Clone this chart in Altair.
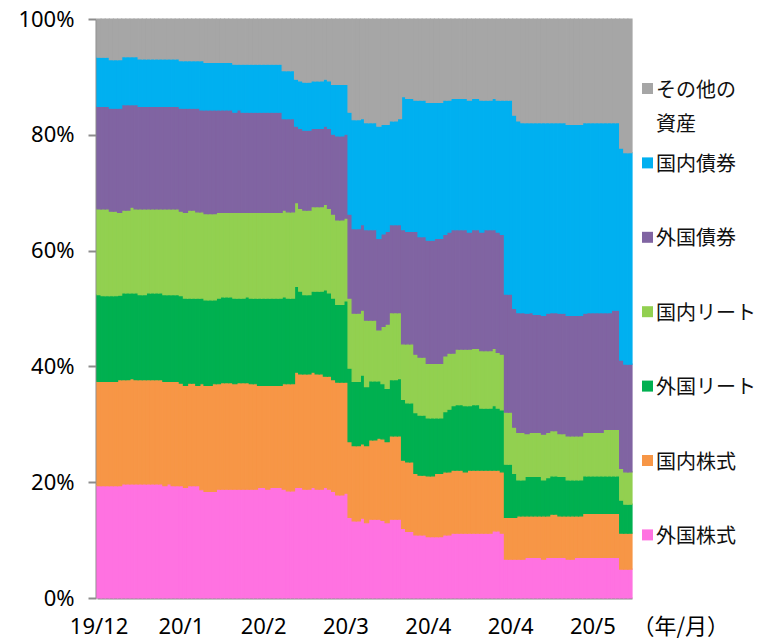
import altair as alt
import pandas as pd

# ---------------- data ----------------
n_days = 130                      # business-day columns
x_tick_every = 20                 # a label every 20 columns
x_tick_labels = ["19/12", "20/1", "20/2", "20/3", "20/4", "20/4", "20/5"]
x_title = "（年/月）"

series_names = ["外国株式", "国内株式", "外国リート", "国内リート", "外国債券", "国内債券", "その他の資産"]
series_colors = ["#FF72E1", "#F79646", "#00B050", "#92D050", "#8064A2", "#00B0F0", "#A6A6A6"]

legend_order = ["その他の資産", "国内債券", "外国債券", "国内リート", "外国リート", "国内株式", "外国株式"]
legend_text = ["その他の\n資産", "国内債券", "外国債券", "国内リート", "外国リート", "国内株式", "外国株式"]

y_ticks = [0, 20, 40, 60, 80, 100]

# cumulative upper edge (%) of each band, per column
top_foreign_equity = [
    19.4, 19.4, 19.4, 19.4, 19.4, 19.4, 19.7, 19.7, 19.7, 19.7,
    19.7, 19.7, 19.7, 19.7, 19.7, 19.7, 19.4, 19.7, 19.4, 19.4,
    19.4, 19.1, 19.4, 19.4, 19.4, 18.7, 18.4, 18.4, 18.4, 18.8,
    18.8, 18.8, 18.8, 18.8, 18.8, 18.8, 18.8, 18.8, 18.8, 19.1,
    19.1, 18.8, 19.1, 19.1, 19.1, 18.8, 18.5, 18.5, 19.1, 19.1,
    18.8, 18.8, 19.1, 18.8, 18.8, 19.1, 18.8, 18.4, 17.8, 17.8,
    18.1, 13.9, 13.3, 13.3, 13.8, 13.0, 13.6, 13.6, 13.6, 13.4,
    13.0, 13.6, 13.6, 13.6, 12.0, 11.5, 11.5, 10.9, 10.9, 10.9,
    10.6, 10.6, 10.6, 10.6, 10.9, 10.9, 11.2, 11.2, 11.2, 11.2,
    11.2, 11.2, 11.2, 11.2, 11.2, 11.2, 11.6, 11.6, 11.2, 6.7,
    6.7, 6.7, 6.7, 6.7, 7.0, 7.0, 7.0, 7.0, 6.7, 7.0,
    7.0, 7.0, 7.0, 7.0, 6.7, 6.7, 7.0, 7.0, 7.0, 7.0,
    7.0, 7.0, 7.0, 7.0, 7.0, 7.0, 7.0, 5.0, 5.0, 5.0,
]
top_domestic_equity = [
    37.4, 37.4, 37.4, 37.4, 37.4, 37.7, 37.7, 37.7, 37.9, 37.7,
    37.7, 37.7, 37.7, 37.7, 37.7, 37.7, 37.4, 37.4, 37.4, 37.4,
    37.1, 36.7, 37.1, 37.1, 36.7, 37.0, 36.7, 36.7, 37.0, 37.0,
    37.2, 37.2, 37.2, 37.0, 37.2, 37.2, 37.2, 37.0, 37.0, 36.7,
    36.7, 36.7, 36.7, 36.7, 36.7, 37.0, 37.0, 37.0, 39.0, 38.7,
    38.7, 38.7, 39.0, 38.7, 38.7, 38.3, 38.3, 37.7, 37.3, 37.3,
    37.3, 27.0, 26.3, 26.3, 26.6, 26.3, 27.3, 27.3, 27.6, 27.5,
    27.0, 28.0, 28.0, 28.0, 23.8, 23.5, 23.5, 21.5, 21.2, 21.2,
    21.1, 21.1, 21.5, 21.5, 21.8, 21.8, 22.1, 22.1, 22.1, 21.8,
    22.1, 22.1, 22.1, 22.1, 22.1, 22.1, 22.1, 22.1, 21.8, 13.9,
    13.9, 13.9, 14.2, 14.2, 14.2, 14.2, 14.2, 14.2, 14.2, 14.2,
    14.5, 14.5, 14.2, 14.2, 14.2, 14.2, 14.2, 14.2, 14.6, 14.6,
    14.6, 14.6, 14.6, 14.6, 14.6, 14.6, 14.6, 11.2, 11.2, 11.2,
]
top_foreign_reit = [
    52.4, 52.2, 52.2, 52.2, 52.2, 52.3, 52.7, 52.7, 52.7, 52.7,
    52.4, 52.4, 52.7, 52.7, 52.7, 52.7, 52.4, 52.4, 52.4, 52.4,
    52.2, 51.8, 51.8, 51.8, 51.8, 51.8, 51.5, 51.5, 51.5, 51.8,
    52.0, 52.0, 52.0, 51.8, 51.8, 51.8, 52.0, 51.8, 51.8, 51.8,
    51.8, 51.8, 51.8, 51.8, 51.8, 52.0, 51.8, 51.8, 53.8, 53.0,
    52.4, 52.4, 53.0, 53.0, 53.0, 53.2, 52.7, 51.8, 50.7, 50.7,
    51.3, 39.7, 37.4, 37.4, 38.5, 36.5, 37.5, 37.5, 37.5, 37.0,
    36.2, 37.7, 37.7, 37.9, 34.3, 33.7, 33.7, 32.0, 31.6, 31.6,
    31.1, 31.1, 31.1, 31.1, 32.2, 32.6, 33.2, 33.4, 33.4, 33.2,
    33.2, 33.4, 33.4, 32.8, 32.8, 32.8, 33.2, 32.8, 32.5, 23.1,
    23.1, 21.5, 20.4, 20.4, 21.0, 21.0, 21.0, 21.0, 20.4, 20.8,
    21.1, 21.1, 21.0, 21.0, 20.4, 20.4, 20.4, 20.4, 21.1, 21.1,
    21.1, 21.1, 21.1, 21.1, 21.1, 21.1, 21.1, 16.9, 16.2, 16.2,
]
top_domestic_reit = [
    67.2, 67.2, 67.2, 66.8, 66.8, 66.6, 67.0, 67.0, 67.5, 67.2,
    67.2, 67.2, 67.2, 67.2, 67.2, 67.2, 67.2, 67.2, 67.2, 67.2,
    66.8, 66.6, 67.0, 67.0, 66.7, 66.7, 66.4, 66.4, 66.4, 66.6,
    66.6, 66.6, 66.6, 66.6, 66.6, 66.6, 66.6, 66.6, 66.6, 66.6,
    66.6, 66.6, 66.6, 66.6, 66.6, 67.0, 66.7, 66.7, 68.3, 67.3,
    67.0, 67.0, 67.6, 67.6, 67.6, 68.0, 67.3, 66.3, 65.3, 65.3,
    65.6, 51.8, 49.2, 49.2, 49.7, 48.0, 48.0, 48.0, 46.3, 46.9,
    47.3, 49.3, 49.3, 49.3, 43.9, 43.9, 43.9, 42.1, 41.6, 41.6,
    40.5, 40.5, 40.5, 40.5, 41.8, 42.3, 42.3, 43.0, 43.0, 43.0,
    43.0, 43.1, 43.1, 42.7, 42.7, 42.7, 43.1, 42.4, 42.1, 32.1,
    32.1, 29.5, 28.6, 28.6, 28.4, 28.6, 28.6, 28.6, 28.3, 28.6,
    28.9, 28.9, 28.4, 28.4, 28.0, 28.0, 28.0, 28.0, 28.6, 28.6,
    28.6, 28.6, 28.6, 29.1, 29.1, 29.1, 29.1, 22.4, 21.8, 21.8,
]
top_foreign_bond = [
    84.9, 84.9, 84.9, 84.6, 84.6, 84.6, 85.2, 85.2, 85.2, 85.2,
    84.9, 84.9, 84.9, 84.9, 84.9, 84.9, 84.9, 84.9, 84.9, 84.9,
    84.6, 84.6, 84.6, 84.6, 84.6, 84.3, 84.3, 84.3, 84.3, 84.3,
    84.3, 84.3, 84.3, 83.9, 84.3, 83.9, 83.9, 83.9, 83.9, 83.9,
    83.9, 83.9, 83.9, 83.9, 83.9, 82.8, 82.8, 82.8, 81.5, 81.1,
    80.8, 80.8, 81.1, 81.1, 81.1, 81.5, 81.1, 80.1, 79.8, 79.8,
    80.1, 66.3, 63.8, 63.8, 64.5, 63.6, 63.6, 63.6, 62.1, 62.9,
    63.3, 64.5, 64.5, 64.5, 63.6, 63.3, 63.3, 63.3, 62.4, 62.4,
    61.8, 61.8, 62.1, 62.1, 62.8, 63.2, 63.6, 63.6, 63.6, 63.6,
    63.2, 63.6, 63.6, 63.2, 63.6, 63.6, 63.6, 63.2, 62.8, 52.5,
    52.5, 50.0, 49.3, 49.3, 49.2, 49.3, 49.0, 49.0, 48.8, 49.2,
    49.3, 49.3, 49.2, 49.2, 48.8, 48.8, 48.8, 48.8, 49.2, 49.3,
    49.3, 49.3, 49.3, 49.3, 49.3, 49.7, 49.7, 41.1, 40.4, 40.4,
]
top_domestic_bond = [
    93.4, 93.4, 93.4, 93.0, 93.0, 93.0, 93.5, 93.5, 93.5, 93.5,
    93.1, 93.1, 93.1, 93.1, 93.1, 93.1, 93.1, 93.1, 93.1, 93.1,
    92.8, 92.8, 92.8, 92.8, 92.8, 92.8, 92.5, 92.5, 92.5, 92.5,
    92.5, 92.5, 92.5, 92.2, 92.2, 92.2, 92.2, 92.2, 92.2, 92.2,
    92.2, 92.2, 92.2, 92.2, 92.2, 91.1, 91.1, 91.1, 89.6, 89.3,
    89.1, 89.1, 89.3, 89.3, 89.3, 89.6, 89.3, 88.7, 88.7, 88.7,
    88.7, 83.9, 82.6, 82.6, 82.8, 82.1, 82.1, 82.1, 81.5, 81.8,
    81.8, 82.4, 82.4, 82.8, 86.6, 86.3, 86.3, 86.0, 86.0, 86.0,
    85.6, 85.6, 85.6, 85.6, 86.0, 86.0, 86.3, 86.3, 86.3, 86.3,
    86.0, 86.3, 86.3, 86.0, 86.0, 86.0, 86.3, 86.0, 86.0, 86.0,
    86.0, 83.4, 82.4, 82.1, 82.1, 82.1, 82.1, 82.1, 82.1, 82.1,
    82.1, 82.1, 82.1, 82.1, 81.8, 81.8, 81.8, 81.8, 82.1, 82.1,
    82.1, 82.1, 82.1, 82.1, 82.1, 82.1, 82.1, 77.7, 76.9, 76.9,
]

# ---------------- table ----------------
edges = [
    [0.0] * n_days,
    top_foreign_equity,
    top_domestic_equity,
    top_foreign_reit,
    top_domestic_reit,
    top_foreign_bond,
    top_domestic_bond,
    [100.0] * n_days,
]
rows = []
for k, name in enumerate(series_names):
    lo, hi = edges[k], edges[k + 1]
    for i in range(n_days):
        rows.append({"idx": i, "series": name, "order": k,
                     "lower": lo[i], "upper": hi[i], "share": round(hi[i] - lo[i], 1)})
df = pd.DataFrame(rows)
legend_df = pd.DataFrame({"name": legend_order, "text": legend_text})

# ---------------- chart ----------------
FONT_LAT = "Noto Sans"
FONT_JP = "Noto Sans CJK JP"
AXIS_GRAY = "#8C8C8C"
color_scale = alt.Scale(domain=series_names, range=series_colors)

tick_positions = [i * x_tick_every for i in range(len(x_tick_labels))]
label_expr = "[" + ",".join("'%s'" % s for s in x_tick_labels) + "][datum.value / %d]" % x_tick_every

bars = alt.Chart(df).mark_bar(strokeWidth=1.2).encode(
    x=alt.X("idx:O",
            scale=alt.Scale(paddingInner=0, paddingOuter=0),
            axis=alt.Axis(values=tick_positions, labelExpr=label_expr, labelAngle=0,
                          labelFont=FONT_LAT, labelFontSize=22, labelColor="#000",
                          labelBaseline="alphabetic", labelPadding=35, labelOverlap=False,
                          ticks=False, tickSize=0, grid=False,
                          domainColor=AXIS_GRAY, domainWidth=2,
                          title=x_title, titleX=535, titleY=35, titleAlign="left",
                          titleBaseline="alphabetic", titleAngle=0, titleFont=FONT_JP,
                          titleFontSize=22, titleFontWeight="normal", titleColor="#000")),
    y=alt.Y("lower:Q",
            scale=alt.Scale(domain=[0, 100], nice=False),
            axis=alt.Axis(values=y_ticks, labelExpr="datum.value + '%'", title=None,
                          labelFont=FONT_LAT, labelFontSize=22, labelColor="#000",
                          labelPadding=14, tickSize=8, tickColor=AXIS_GRAY, tickWidth=2,
                          domainColor=AXIS_GRAY, domainWidth=2, grid=False, offset=1)),
    y2="upper:Q",
    color=alt.Color("series:N", scale=color_scale, legend=None),
    stroke=alt.Stroke("series:N", scale=color_scale, legend=None),
    order=alt.Order("order:Q"),
    tooltip=["idx:O", "series:N", "share:Q"],
)

leg_y = alt.Y("name:N", sort=legend_order,
              scale=alt.Scale(type="point", domain=legend_order, range=[69.5, 515.9], padding=0),
              axis=None)
leg_squares = alt.Chart(legend_df).mark_square(size=121, opacity=1, strokeWidth=0).encode(
    x=alt.value(550.5), y=leg_y,
    color=alt.Color("name:N", scale=color_scale, legend=None),
)
leg_labels = alt.Chart(legend_df).mark_text(
    align="left", baseline="top", dy=-8, lineBreak="\n", lineHeight=34.5,
    font=FONT_JP, fontSize=20, color="#111",
).encode(x=alt.value(559), y=leg_y, text="text:N")

chart = alt.layer(bars, leg_squares, leg_labels).resolve_scale(y="independent").properties(
    width=535, height=579,
    autosize=alt.AutoSizeParams(type="none"),
    padding={"left": 89, "top": 11, "right": 124, "bottom": 46},
).configure_view(stroke=None)

chart.save("out.html", embed_options={"renderer": "svg", "actions": False})
